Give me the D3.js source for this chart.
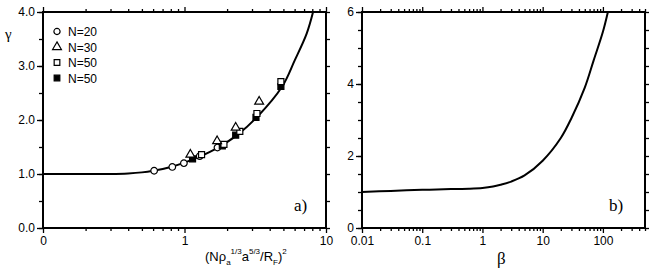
<!DOCTYPE html>
<html>
<head>
<meta charset="utf-8">
<script src="https://cdn.jsdelivr.net/npm/d3@7"></script>
<style>
  body { margin: 0; background: #fff; }
  svg { display: block; }
  .tick text { font-family: "Liberation Sans", Arial, sans-serif; font-size: 12px; fill: #000; }
  .domain { display: none; }
</style>
</head>
<body>
<svg id="chart" width="654" height="271"></svg>
<script>
// ---- panel a data ----
const curveAX = [0.1, 0.2, 0.3, 0.4, 0.5, 0.6, 0.8, 1.0, 1.3, 1.7, 2.35, 3.27, 4.9, 6.0, 7.3, 8.1];
const curveAY = [1.0, 1.0, 1.0, 1.01, 1.03, 1.06, 1.13, 1.21, 1.33, 1.48, 1.72, 2.06, 2.62, 3.1, 3.6, 4.0];

const n20X = [0.61, 0.82, 0.99, 1.28, 1.71];
const n20Y = [1.06, 1.13, 1.20, 1.33, 1.49];
const n30X = [1.1, 1.7, 2.3, 3.37];
const n30Y = [1.36, 1.61, 1.86, 2.34];
const n50X = [1.32, 1.9, 2.46, 3.25, 4.8];
const n50Y = [1.36, 1.55, 1.79, 2.12, 2.71];
const n50fX = [1.14, 1.85, 2.3, 3.2, 4.8];
const n50fY = [1.28, 1.52, 1.72, 2.05, 2.62];

const legendLabels = ["N=20", "N=30", "N=50", "N=50"];

const aYTicks = [0, 1, 2, 3, 4];
const aYLabels = ["0.0", "1.0", "2.0", "3.0", "4.0"];
const aXTicks = [0.1, 1, 10];
const aXLabels = ["0", "1", "10"];

// ---- panel b data ----
const curveBX = [0.01, 0.03, 0.1, 0.3, 0.6, 1, 1.5, 2, 3, 5, 10, 20, 30, 50, 70, 100, 121];
const curveBY = [1.00, 1.03, 1.06, 1.08, 1.09, 1.11, 1.15, 1.2, 1.29, 1.46, 1.87, 2.5, 3.05, 3.9, 4.65, 5.45, 6.0];

const bYTicks = [0, 2, 4, 6];
const bXTicks = [0.01, 0.1, 1, 10, 100];
const bXLabels = ["0.01", "0.1", "1", "10", "100"];

const svg = d3.select('#chart');
const top0 = 12, bottom0 = 228;

function logMinors(lo, hi) {
  const out = [];
  for (let d = lo; d < hi; d *= 10) {
    for (let k = 2; k <= 9; k++) {
      const v = d * k;
      if (v <= hi * 1.0001) out.push(v);
    }
  }
  return out;
}

function halfSteps(max) {
  const out = [];
  for (let v = 0; v <= max + 1e-9; v += 0.5) out.push(v);
  return out;
}

function drawFrame(g, x, y, opts) {
  const [x0, x1] = x.range();
  const bottomH = bottom0 - top0;

  // minor ticks
  const minorsX = logMinors(opts.xMin, opts.xMaxDec).filter(v => v <= x.domain()[1]);
  g.append('g').attr('transform', `translate(0,${bottom0})`)
    .call(d3.axisBottom(x).tickValues(minorsX).tickSize(3).tickFormat(''));
  g.append('g').attr('transform', `translate(0,${top0})`)
    .call(d3.axisTop(x).tickValues(minorsX).tickSize(3).tickFormat(''));
  const minorsY = halfSteps(y.domain()[1]);
  g.append('g').attr('transform', `translate(${x0},0)`)
    .call(d3.axisLeft(y).tickValues(minorsY).tickSize(4).tickFormat(''));
  g.append('g').attr('transform', `translate(${x1},0)`)
    .call(d3.axisRight(y).tickValues(minorsY).tickSize(4).tickFormat(''));

  // major ticks with labels
  g.append('g').attr('transform', `translate(0,${bottom0})`)
    .call(d3.axisBottom(x).tickValues(opts.xTicks).tickSize(5).tickPadding(3)
      .tickFormat((d, i) => opts.xLabels[i]));
  g.append('g').attr('transform', `translate(0,${top0})`)
    .call(d3.axisTop(x).tickValues(opts.xTicks).tickSize(5).tickFormat(''));
  g.append('g').attr('transform', `translate(${x0},0)`)
    .call(d3.axisLeft(y).tickValues(opts.yTicks).tickSize(6).tickPadding(2)
      .tickFormat((d, i) => opts.yLabels[i]));

  g.selectAll('.tick line').attr('stroke', '#000').attr('stroke-width', 1.3);

  g.append('rect')
    .attr('x', x0).attr('y', top0)
    .attr('width', x1 - x0).attr('height', bottomH)
    .attr('fill', 'none').attr('stroke', '#000').attr('stroke-width', 2);
}

// ================= panel a =================
const xA = d3.scaleLog().domain([0.1, 10]).range([43, 326]);
const yA = d3.scaleLinear().domain([0, 4]).range([bottom0, top0]);
const gA = svg.append('g');

svg.append('defs').append('clipPath').attr('id', 'clipA')
  .append('rect').attr('x', 43).attr('y', top0).attr('width', 326 - 43).attr('height', bottom0 - top0);
svg.select('defs').append('clipPath').attr('id', 'clipB')
  .append('rect').attr('x', 362).attr('y', top0).attr('width', 645 - 362).attr('height', bottom0 - top0);

const lineA = d3.line().x(d => xA(d[0])).y(d => yA(d[1])).curve(d3.curveCatmullRom.alpha(0.5));
gA.append('path')
  .datum(curveAX.map((v, i) => [v, curveAY[i]]))
  .attr('clip-path', 'url(#clipA)')
  .attr('d', lineA)
  .attr('fill', 'none').attr('stroke', '#000').attr('stroke-width', 2);

const symCircle = d3.symbol().type(d3.symbolCircle).size(34);
const symTri = d3.symbol().type(d3.symbolTriangle).size(34);
const symSq = d3.symbol().type(d3.symbolSquare).size(36);

function drawPoints(xs, ys, sym, filled) {
  gA.append('g').selectAll('path')
    .data(xs.map((v, i) => [v, ys[i]]))
    .enter().append('path')
    .attr('transform', d => `translate(${xA(d[0])},${yA(d[1])})`)
    .attr('d', sym)
    .attr('fill', filled ? '#000' : '#fff')
    .attr('stroke', '#000').attr('stroke-width', 1.2);
}
drawPoints(n20X, n20Y, symCircle, false);
drawPoints(n50fX, n50fY, symSq, true);
drawPoints(n50X, n50Y, symSq, false);
drawPoints(n30X, n30Y, symTri, false);

drawFrame(gA, xA, yA, {
  xMin: 0.1, xMaxDec: 10, xTicks: aXTicks, xLabels: aXLabels,
  yTicks: aYTicks, yLabels: aYLabels
});

// legend
const legendSyms = [
  [d3.symbol().type(d3.symbolCircle).size(30), false],
  [d3.symbol().type(d3.symbolTriangle).size(34), false],
  [d3.symbol().type(d3.symbolSquare).size(32), false],
  [d3.symbol().type(d3.symbolSquare).size(32), true]
];
const legend = gA.append('g');
legendLabels.forEach((lab, i) => {
  const yy = 31.5 + i * 15.5;
  legend.append('path')
    .attr('transform', `translate(57,${yy})`)
    .attr('d', legendSyms[i][0])
    .attr('fill', legendSyms[i][1] ? '#000' : '#fff')
    .attr('stroke', '#000').attr('stroke-width', 1.2);
  legend.append('text')
    .attr('x', 68).attr('y', yy + 4.5)
    .attr('font-family', '"Liberation Sans", Arial, sans-serif')
    .attr('font-size', 12)
    .text(lab);
});

// y label
svg.append('text')
  .attr('x', 5).attr('y', 39)
  .attr('font-family', '"Liberation Serif", "Times New Roman", serif')
  .attr('font-size', 15)
  .text('γ');

svg.append('text')
  .attr('x', 294).attr('y', 211)
  .attr('font-family', '"Liberation Serif", "Times New Roman", serif')
  .attr('font-size', 17)
  .text('a)');

// x label a: (Nρa^{1/3} a^{5/3}/R_F)^2
const xl = svg.append('text')
  .attr('x', 205).attr('y', 261)
  .attr('font-family', '"Liberation Sans", Arial, sans-serif')
  .attr('font-size', 13);
xl.append('tspan').text('(Nρ');
xl.append('tspan').attr('font-size', 8).attr('dy', 4).text('a');
xl.append('tspan').attr('font-size', 8).attr('dy', -11).text('1/3');
xl.append('tspan').attr('dy', 7).text('a');
xl.append('tspan').attr('font-size', 8).attr('dy', -7).text('5/3');
xl.append('tspan').attr('dy', 7).text('/R');
xl.append('tspan').attr('font-size', 8).attr('dy', 4).text('F');
xl.append('tspan').attr('dy', -4).text(')');
xl.append('tspan').attr('font-size', 8).attr('dy', -7).text('2');

// ================= panel b =================
const xB = d3.scaleLog().domain([0.01, 500]).range([362, 645]);
const yB = d3.scaleLinear().domain([0, 6]).range([bottom0, top0]);
const gB = svg.append('g');

const lineB = d3.line().x(d => xB(d[0])).y(d => yB(d[1])).curve(d3.curveCatmullRom.alpha(0.5));
gB.append('path')
  .datum(curveBX.map((v, i) => [v, curveBY[i]]))
  .attr('clip-path', 'url(#clipB)')
  .attr('d', lineB)
  .attr('fill', 'none').attr('stroke', '#000').attr('stroke-width', 2);

drawFrame(gB, xB, yB, {
  xMin: 0.01, xMaxDec: 1000, xTicks: bXTicks, xLabels: bXLabels,
  yTicks: bYTicks, yLabels: bYTicks.map(String)
});

svg.append('text')
  .attr('x', 609).attr('y', 211)
  .attr('font-family', '"Liberation Serif", "Times New Roman", serif')
  .attr('font-size', 17)
  .text('b)');

svg.append('text')
  .attr('x', 497).attr('y', 264)
  .attr('font-family', '"Liberation Serif", "Times New Roman", serif')
  .attr('font-size', 17)
  .text('β');
</script>
</body>
</html>
